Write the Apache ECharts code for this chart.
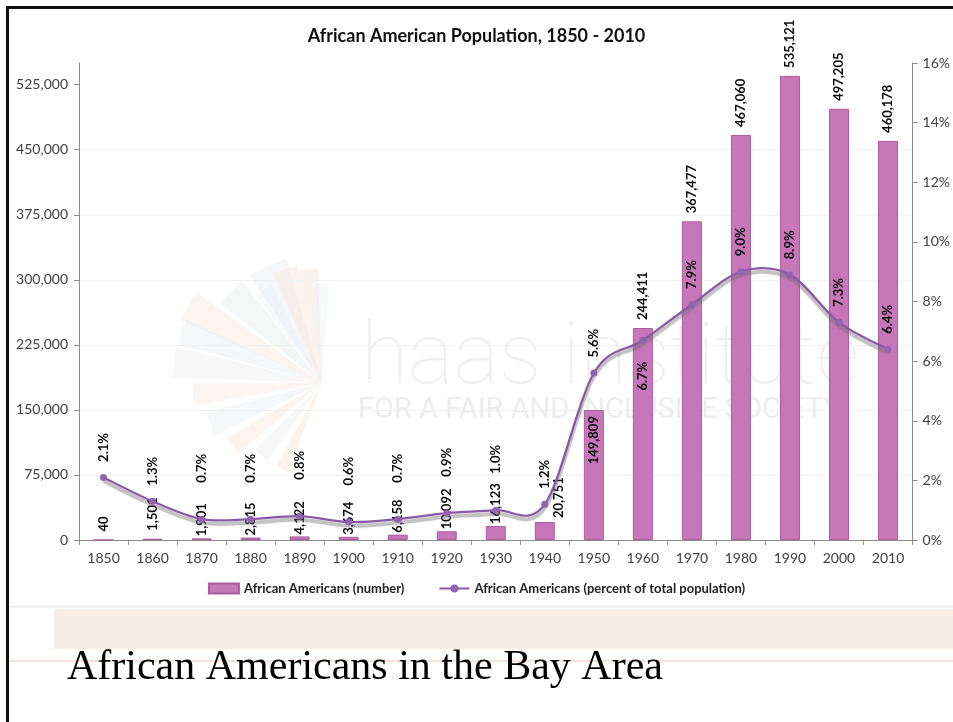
<!DOCTYPE html>
<html>
<head>
<meta charset="utf-8">
<script src="https://cdn.jsdelivr.net/npm/echarts@6/dist/echarts.min.js"></script>
<style>
html,body{margin:0;padding:0;background:#ffffff;}
#chart{width:953px;height:722px;}
</style>
</head>
<body>
<div id="chart"></div>
<script>
// ---- data ----
const years = ['1850','1860','1870','1880','1890','1900','1910','1920','1930','1940','1950','1960','1970','1980','1990','2000','2010'];
const numbers = [40,1501,1901,2815,4122,3674,6158,10092,16123,20751,149809,244411,367477,467060,535121,497205,460178];
const percents = [2.1,1.3,0.7,0.7,0.8,0.6,0.7,0.9,1.0,1.2,5.6,6.7,7.9,9.0,8.9,7.3,6.4];
const leftTicks = [0,75000,150000,225000,300000,375000,450000,525000];
const titleText = 'African American Population, 1850 - 2010';
const seriesNames = ['African Americans (number)','African Americans (percent of total population)'];
const subtitleText = 'African Americans in the Bay Area';

// ---- build options ----
const FONT = 'Lato, "Open Sans", sans-serif';
const LINE_COLOR = '#8a58a8';
const labelBase = {show:true, rotate:90, fontFamily:FONT, fontWeight:'bold', fontSize:13, color:'#0a0a0a'};

const barData = numbers.map((v,i)=>{
  const item = {value:v};
  if (i === 10) {
    item.label = {position:'insideTop', align:'right', distance:6};
  } else if (i === 9) {
    item.label = {position:'top', align:'left', distance:4, offset:[0,14]};
  } else if (i >= 2 && i <= 8) {
    item.label = {position:'top', align:'left', distance:2};
  }
  return item;
});

const lineData = percents.map((v,i)=>{
  const item = {value:v};
  if (i === 11) {
    item.label = {position:'bottom', align:'right', distance:18};
  } else if (i >= 2 && i <= 8) {
    item.label = {position:'top', align:'left', distance:33};
  }
  return item;
});

// smooth curve segments (Excel-like cardinal spline) drawn via the axis scales
function renderCurve(params, api){
  const i = params.dataIndex;
  const n = percents.length;
  if (i >= n - 1) return null;
  const P = k => api.coord([Math.max(0, Math.min(n-1, k)), percents[Math.max(0, Math.min(n-1, k))]]);
  const p0 = P(i-1), p1 = P(i), p2 = P(i+1), p3 = P(i+2);
  const t = 1/6;
  const shape = (dy)=>({
    x1:p1[0], y1:p1[1]+dy, x2:p2[0], y2:p2[1]+dy,
    cpx1:p1[0] + (p2[0]-p0[0])*t, cpy1:p1[1] + (p2[1]-p0[1])*t + dy,
    cpx2:p2[0] - (p3[0]-p1[0])*t, cpy2:p2[1] - (p3[1]-p1[1])*t + dy
  });
  return {
    type:'group',
    children:[
      {type:'bezierCurve', shape:shape(3.5),
        style:{stroke:'rgba(110,110,110,0.35)', lineWidth:4, fill:null, shadowColor:'rgba(90,90,90,0.3)', shadowBlur:3}},
      {type:'bezierCurve', shape:shape(0),
        style:{stroke:LINE_COLOR, lineWidth:2.2, fill:null}}
    ]
  };
}

// faint starburst watermark rays
const cx = 322, cy = 383;
const rays = [
  [-115,130,9,'#e9ecef'],[-108,120,6,'#f6e4da'],[-122,110,5,'#eef1f4'],
  [-135,130,7,'#e8eaec'],[-150,155,6,'#f7e8df'],[-160,150,5,'#eaeef2'],
  [-172,150,6,'#f0f0f0'],[-185,130,5,'#f8e9e1'],[-200,120,6,'#e9edf1'],
  [-215,110,5,'#f8e6dc'],[-230,95,5,'#eeeeee'],[-245,95,4,'#f7e4da'],
  [-97,115,5,'#f5e2d8'],[-90,100,4,'#eef1f4']
];
const rayGraphics = rays.map(r=>{
  const a = r[0]*Math.PI/180, w = r[2]*Math.PI/180;
  const p1 = [cx + r[1]*Math.cos(a-w), cy + r[1]*Math.sin(a-w)];
  const p2 = [cx + r[1]*Math.cos(a+w), cy + r[1]*Math.sin(a+w)];
  return {type:'polygon', z:-10, silent:true, shape:{points:[[cx,cy],p1,p2]}, style:{fill:r[3], opacity:0.45}};
});

const option = {
  backgroundColor:'#ffffff',
  animation:false,
  title:{
    text:titleText, left:'center', top:22,
    textStyle:{fontFamily:FONT, fontWeight:'bold', fontSize:18, color:'#111'}
  },
  grid:{left:79, right:38, top:63, bottom:182, containLabel:false},
  legend:{
    top:577, left:'center', itemGap:34, itemWidth:30, itemHeight:10,
    textStyle:{fontFamily:FONT, fontWeight:'bold', fontSize:13, color:'#222'},
    data:[{name:seriesNames[0], icon:'rect'},
          {name:seriesNames[1], lineStyle:{color:LINE_COLOR, width:2, opacity:1}}]
  },
  xAxis:{
    type:'category', data:years,
    axisLine:{lineStyle:{color:'#8c8c8c', width:1}},
    axisTick:{show:true, length:5, lineStyle:{color:'#8c8c8c'}},
    axisLabel:{fontFamily:FONT, fontSize:14, color:'#404040', margin:11}
  },
  yAxis:[
    {
      type:'value', min:0, max:550000, interval:75000, position:'left',
      axisLine:{show:true, lineStyle:{color:'#8c8c8c'}},
      axisTick:{show:true, length:5, lineStyle:{color:'#8c8c8c'}, customValues:leftTicks},
      axisLabel:{fontFamily:FONT, fontSize:14, color:'#404040', margin:11,
        customValues:leftTicks,
        formatter:v=>Number(v).toLocaleString('en-US')},
      splitLine:{show:true, showMaxLine:false, lineStyle:{color:'#f1f1f1', width:1}}
    },
    {
      type:'value', min:0, max:16, interval:2, position:'right',
      axisLine:{show:true, lineStyle:{color:'#8c8c8c'}},
      axisTick:{show:true, length:5, lineStyle:{color:'#8c8c8c'}},
      axisLabel:{fontFamily:FONT, fontSize:14, color:'#404040', margin:10, formatter:'{value}%'},
      splitLine:{show:false}
    }
  ],
  series:[
    {
      name:seriesNames[0], type:'bar', yAxisIndex:0, barWidth:20, z:2,
      data:barData,
      itemStyle:{color:'#c776b9', borderColor:'#a85e9c', borderWidth:1},
      label:Object.assign({}, labelBase, {position:'top', align:'left', verticalAlign:'middle', distance:8,
        formatter:p=>Number(p.value).toLocaleString('en-US')})
    },
    {
      type:'custom', yAxisIndex:1, z:3, silent:true,
      data:percents, renderItem:renderCurve, clip:false
    },
    {
      name:seriesNames[1], type:'line', yAxisIndex:1, z:4,
      data:lineData,
      symbol:'circle', symbolSize:7,
      itemStyle:{color:'#9064ae'},
      lineStyle:{color:LINE_COLOR, width:2, opacity:0},
      label:Object.assign({}, labelBase, {position:'top', align:'left', verticalAlign:'middle', distance:12,
        formatter:p=>Number(p.value).toFixed(1)+'%'})
    }
  ],
  graphic:[].concat(rayGraphics, [
    {type:'text', z:-9, silent:true, left:361, top:318,
      style:{text:'haas institute', fontFamily:'Roboto, Lato, sans-serif', fontWeight:100, fontSize:86, fill:'#efefef'}},
    {type:'text', z:-9, silent:true, left:358, top:396,
      style:{text:'FOR A FAIR AND INCLUSIVE SOCIETY', fontFamily:'"Liberation Sans Narrow", Roboto, sans-serif', fontSize:29, fill:'#ededed'}},
    {type:'rect', z:10, silent:true, shape:{x:6, y:6, width:947, height:3}, style:{fill:'#111'}},
    {type:'rect', z:10, silent:true, shape:{x:6, y:6, width:3, height:716}, style:{fill:'#111'}},
    {type:'rect', z:10, silent:true, shape:{x:9, y:606, width:944, height:1.5}, style:{fill:'#e8e8e8'}},
    {type:'rect', z:10, silent:true, shape:{x:54, y:609, width:899, height:40}, style:{fill:'#f8ede5'}},
    {type:'rect', z:10, silent:true, shape:{x:9, y:660, width:944, height:2}, style:{fill:'#f3e4db'}},
    {type:'text', z:11, silent:true, left:67, top:647,
      style:{text:subtitleText, fontFamily:'"Liberation Serif", "DejaVu Serif", serif', fontSize:42, fill:'#000'}}
  ])
};

const chart = echarts.init(document.getElementById('chart'), null, {renderer:'canvas'});
chart.setOption(option);
</script>
</body>
</html>
